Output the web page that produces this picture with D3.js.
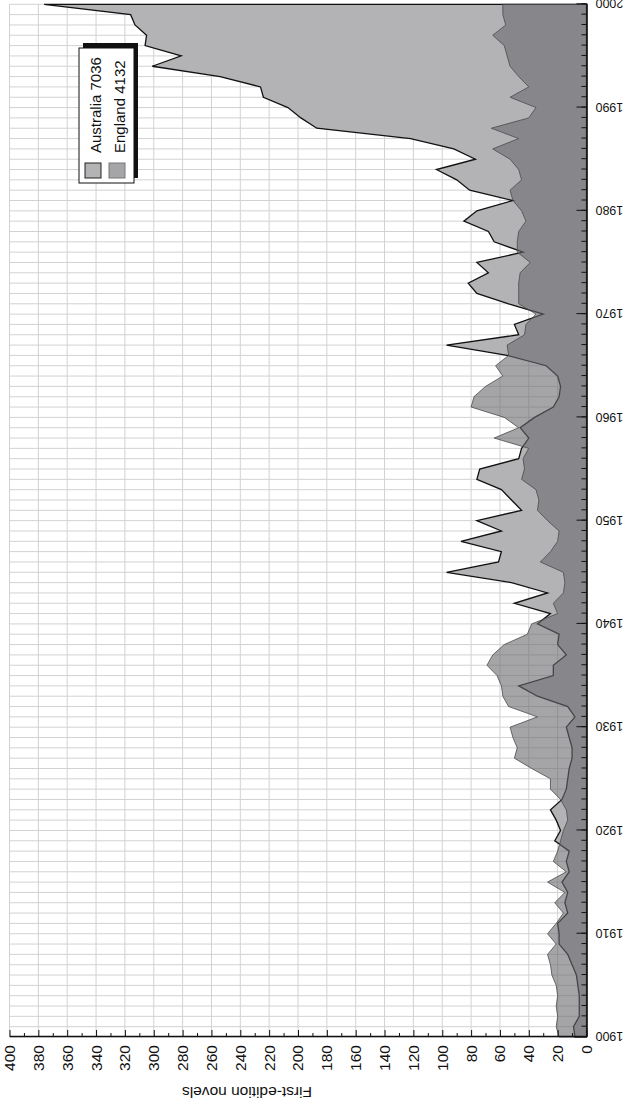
<!DOCTYPE html>
<html><head><meta charset="utf-8">
<script src="https://cdn.jsdelivr.net/npm/d3@7/dist/d3.min.js"></script>
<style>
body{margin:0;background:#fff;}
svg text{font-family:"Liberation Sans",Arial,Helvetica,sans-serif;fill:#111;}
</style>
</head><body>
<svg id="chart" width="634" height="1110"></svg>
<script>
// ---- data ----
const years = [1900,1901,1902,1903,1904,1905,1906,1907,1908,1909,
1910,1911,1912,1913,1914,1915,1916,1917,1918,1919,
1920,1921,1922,1923,1924,1925,1926,1927,1928,1929,
1930,1931,1932,1933,1934,1935,1936,1937,1938,1939,
1940,1941,1942,1943,1944,1945,1946,1947,1948,1949,
1950,1951,1952,1953,1954,1955,1956,1957,1958,1959,
1960,1961,1962,1963,1964,1965,1966,1967,1968,1969,
1970,1971,1972,1973,1974,1975,1976,1977,1978,1979,
1980,1981,1982,1983,1984,1985,1986,1987,1988,1989,
1990,1991,1992,1993,1994,1995,1996,1997,1998,1999,2000];
const australia = [8,9,5,5,5,6,7,10,13,19,
19,20,13,15,13,17,12,14,12,22,
18,21,25,17,14,13,12,10,10,12,
14,8,13,34,47,23,23,14,20,19,
34,25,50,27,52,97,61,59,87,59,
76,45,52,59,76,74,47,45,40,46,
36,23,19,18,20,28,55,97,47,50,
30,54,76,82,68,76,44,64,68,85,
76,51,81,90,104,77,92,122,187,198,
207,224,226,254,301,281,306,305,313,316,376];
const england = [19,21,20,21,20,21,24,25,27,21,
27,21,16,22,15,27,14,23,20,18,
16,13,14,18,25,25,38,50,48,51,
53,34,54,58,59,62,69,65,57,41,
38,20,23,16,15,16,32,25,20,19,
27,34,33,35,45,43,44,40,64,47,
57,80,78,70,58,63,54,55,43,42,
35,47,47,47,46,39,48,48,47,42,
45,51,53,45,47,53,65,47,66,40,
35,53,40,47,53,55,57,65,56,58,58];
const seriesNames = ["Australia", "England"];
const seriesTotals = [7036, 4132];
const yearLabels = [1900,1910,1920,1930,1940,1950,1960,1970,1980,1990,2000];
const valueLabels = [0,20,40,60,80,100,120,140,160,180,200,220,240,260,280,300,320,340,360,380,400];
const valueMinor = [10,30,50,70,90,110,130,150,170,190,210,230,250,270,290,310,330,350,370,390];
const yAxisTitle = "First-edition novels";

// ---- layout (drawn in an unrotated frame, then turned 90° counter-clockwise) ----
const W = 1110;
const svg = d3.select("#chart");
const g = svg.append("g").attr("transform", `translate(0,${W}) rotate(-90)`);

const x = d3.scaleLinear().domain([1900, 2000]).range([73, 1105.7]);
const y = d3.scaleLinear().domain([0, 400]).range([586.5, 9.5]);

// gridlines
const grid = g.append("g");
grid.selectAll("line.gy").data(years).enter().append("line")
  .attr("x1", d => x(d)).attr("x2", d => x(d))
  .attr("y1", y(0)).attr("y2", y(400))
  .attr("stroke", "#d2d2d2").attr("stroke-width", 1);
grid.selectAll("line.gv").data(valueLabels.filter(v => v > 0)).enter().append("line")
  .attr("x1", x(1900)).attr("x2", x(2000))
  .attr("y1", d => y(d)).attr("y2", d => y(d))
  .attr("stroke", "#d2d2d2").attr("stroke-width", 1);

// areas
const areaA = d3.area().x((d, i) => x(years[i])).y0(y(0)).y1(d => y(d));
g.append("path").datum(australia).attr("d", areaA)
  .attr("fill", "#b3b3b6").attr("stroke", "#111").attr("stroke-width", 1.3)
  .attr("stroke-linejoin", "miter");
g.append("path").datum(england).attr("d", areaA)
  .attr("fill", "rgb(105,105,110)").attr("fill-opacity", 0.6)
  .attr("stroke", "#4a4a4a").attr("stroke-width", 0.8);

// year axis (bottom in unrotated frame)
const xMinor = g.append("g").attr("transform", `translate(0,${y(0)})`)
  .call(d3.axisBottom(x).tickValues(years).tickSizeInner(-5).tickSizeOuter(0).tickFormat(""));
xMinor.select(".domain").remove();
xMinor.selectAll(".tick line").attr("stroke", "#111");
const xAxis = g.append("g").attr("transform", `translate(0,${y(0)})`)
  .call(d3.axisBottom(x).tickValues(yearLabels).tickSizeInner(-10).tickSizeOuter(0).tickFormat(d3.format("d")));
xAxis.select(".domain").attr("stroke", "#111").attr("stroke-width", 1.6);
xAxis.selectAll(".tick line").attr("stroke", "#111");
xAxis.selectAll(".tick text")
  .attr("transform", "rotate(-90)").attr("x", -9).attr("y", 0).attr("dy", "0.35em")
  .attr("text-anchor", "end").style("font-size", "12.5px").attr("font-family", null);

// value axis (left in unrotated frame)
const yMinor = g.append("g").attr("transform", `translate(${x(1900)},0)`)
  .call(d3.axisLeft(y).tickValues(valueMinor).tickSizeInner(-4).tickSizeOuter(0).tickFormat(""));
yMinor.select(".domain").remove();
yMinor.selectAll(".tick line").attr("stroke", "#111");
const yAxis = g.append("g").attr("transform", `translate(${x(1900)},0)`)
  .call(d3.axisLeft(y).tickValues(valueLabels).tickSizeInner(-7).tickSizeOuter(0).tickPadding(8).tickFormat(d3.format("d")));
yAxis.select(".domain").attr("stroke", "#111").attr("stroke-width", 1.6);
yAxis.selectAll(".tick line").attr("stroke", "#111");
yAxis.selectAll(".tick text").style("font-size", "15.5px").attr("font-family", null);

// axis title
g.append("text").attr("transform", `translate(23,${247}) rotate(-90)`)
  .attr("text-anchor", "middle").style("font-size", "15.5px").text(yAxisTitle);

// legend
const lg = g.append("g");
lg.append("rect").attr("x", 932).attr("y", 83).attr("width", 135).attr("height", 55).attr("fill", "#111");
lg.append("rect").attr("x", 927).attr("y", 79).attr("width", 135).attr("height", 55)
  .attr("fill", "#fff").attr("stroke", "#111").attr("stroke-width", 1);
const sw = [{fill:"#b3b3b6", op:1, stroke:"#222"}, {fill:"rgb(105,105,110)", op:0.6, stroke:"#777"}];
const baselines = [101, 125];
seriesNames.forEach((n, i) => {
  lg.append("rect").attr("x", 932).attr("y", baselines[i] - 16).attr("width", 15).attr("height", 16)
    .attr("fill", sw[i].fill).attr("fill-opacity", sw[i].op).attr("stroke", sw[i].stroke).attr("stroke-width", 1);
  lg.append("text").attr("x", 957).attr("y", baselines[i]).style("font-size", "15px")
    .text(n + " " + seriesTotals[i]);
});
</script>
</body></html>
